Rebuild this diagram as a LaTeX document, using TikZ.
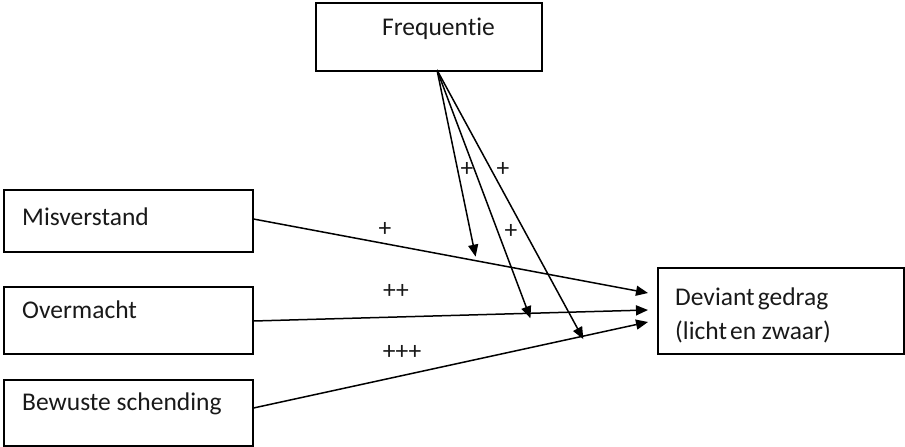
\documentclass[tikz,border=0pt]{standalone}
\usepackage{fontspec}
\setmainfont[Ligatures=NoCommon]{Carlito}
\usetikzlibrary{arrows.meta}
\begin{document}
\begin{tikzpicture}[x=1pt,y=-1pt,
  box/.style={draw=black,line width=1.5pt,anchor=north west,inner sep=0pt},
  lbl/.style={anchor=base west,inner sep=0pt,font=\fontsize{25.5}{30}\selectfont,text=black!90},
  sgn/.style={anchor=center,inner sep=0pt,font=\fontsize{25.5}{30}\selectfont,text=black!90},
  conn/.style={line width=1.5pt,-{Triangle[length=12pt,width=10pt]}}]
\useasboundingbox (0,0) rectangle (905,447);

% boxes
\node[box,minimum width=226pt,minimum height=68pt] (freq) at (315,2) {};
\node[box,minimum width=249pt,minimum height=62pt] (mis) at (3,189) {};
\node[box,minimum width=249pt,minimum height=67pt] (over) at (3,286) {};
\node[box,minimum width=249pt,minimum height=66pt] (bew) at (3,379) {};
\node[box,minimum width=246pt,minimum height=86pt] (dev) at (657,267) {};

% box texts
\node[lbl] (tfreq) at (382,35) {Frequentie};
\node[lbl] (tmis) at (22,225) {Misverstand};
\node[lbl] (tover) at (22,318) {Overmacht};
\node[lbl] (tbew) at (22,410) {Bewuste schending};
\node[lbl] (tdev1) at (675,305) {Deviant\hspace{0.12em}gedrag};
\node[lbl] (tdev2) at (675,339) {(licht\hspace{0.12em}en zwaar)};

% arrow ends at the outcome box
\coordinate (e1) at (648,293);
\coordinate (e2) at (648,310);
\coordinate (e3) at (648,322);

% main effects
\draw[conn] (mis.east |- 0,219) -- (e1)
  coordinate[pos=0.563] (m1);
\draw[conn] (over.east |- 0,321) -- (e2)
  coordinate[pos=0.702] (m2);
\draw[conn] (bew.east |- 0,408) -- (e3)
  coordinate[pos=0.836] (m3);

% moderation by frequency
\coordinate (fs) at (437,70);
\draw[conn] (fs) -- ([yshift=4pt]m1);
\draw[conn] (fs) -- ([yshift=-5pt]m2);
\draw[conn] (fs) -- ([yshift=-3pt]m3);

% signs
\node[sgn] (s1) at (467,169) {+};
\node[sgn] (s2) at (503,169) {+};
\node[sgn] (s3) at (511,231) {+};
\node[sgn] (s4) at (385,229) {+};
\node[sgn] (s5) at (396,291) {++};
\node[sgn] (s6) at (402,352) {+++};
\end{tikzpicture}
\end{document}
